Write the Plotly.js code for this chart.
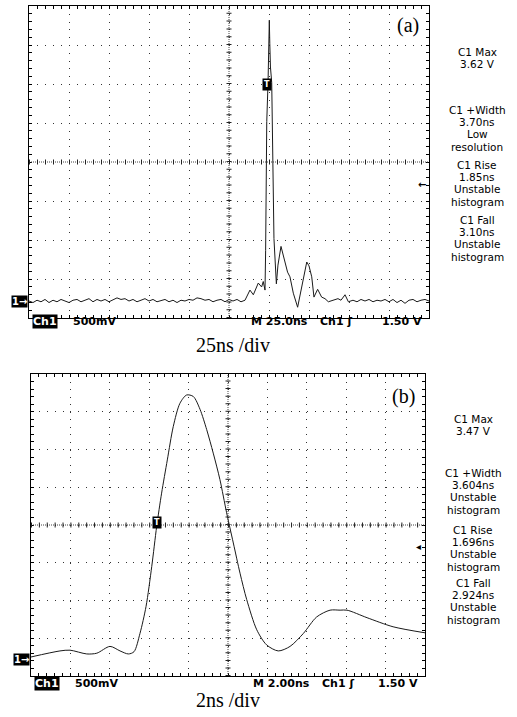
<!DOCTYPE html>
<html>
<head>
<meta charset="utf-8">
<script src="https://cdn.plot.ly/plotly-3.0.1.min.js"></script>
<style>html,body{margin:0;padding:0;background:#fff;}#chart{width:517px;height:717px;}</style>
</head>
<body>
<div id="chart"></div>
<script>
// ---------- data ----------
// Panel (a): time in ns (25 ns/div), voltage in V
const timeA = [0,2.5,5,7.5,10,12.5,15,17.5,20,22.5,25,27.5,30,32.5,35,37.5,40,42.5,45,47.5,50,52.5,55,57.5,60,62.5,65,67.5,70,72.5,75,77.5,80,82.5,85,87.5,90,92.5,95,97.5,100,102.5,105,107.5,110,112.5,115,117.5,120,122.5,125,127.5,130,132.5,135,
  138.1,140.2,143.3,145.4,146.4,147.5,147.9,148.1,148.6,149.4,149.9,150.2,150.5,150.9,151.7,152.1,152.4,152.7,153.1,154.6,155.6,157.5,158.75,160,161.6,163.1,165.2,167.9,170.4,171.9,173.6,175,176.7,178.1,180.4,182.9,185,187.1,190,193.1,195,197.5,199.6,
  202.5,205,207.5,210,212.5,215,217.5,220,222.5,225,227.5,230,232.5,235,237.5,240,242.5,245,247.5,250];
const voltA = [0.00,-0.02,0.01,-0.01,0.02,-0.02,0.01,-0.01,0.02,0.00,-0.02,0.01,0.02,-0.01,0.01,0.03,-0.01,0.02,0.00,0.02,-0.01,0.02,0.04,0.02,0.03,0.00,0.02,-0.01,0.01,0.03,0.00,0.02,-0.01,0.01,0.02,-0.01,0.01,-0.02,0.01,0.00,0.02,0.01,0.04,0.03,0.01,0.02,-0.01,0.01,0.02,-0.01,0.02,0.00,0.02,-0.01,0.01,
  0.14,0.08,0.23,0.18,0.25,0.14,0.65,1.30,2.30,2.80,3.30,3.60,3.30,3.00,2.80,2.30,1.80,1.30,0.80,0.22,0.46,0.70,0.59,0.49,0.37,0.31,0.10,-0.08,0.18,0.33,0.50,0.45,0.31,0.05,0.15,0.05,0.03,-0.01,0.01,0.03,0.01,0.08,-0.01,
  0.01,-0.01,0.02,0.00,0.02,-0.01,0.01,0.00,0.02,-0.01,0.02,-0.02,0.01,-0.03,0.01,0.02,-0.01,0.01,0.02,0.00];

// Panel (b): time in ns (2 ns/div), voltage in V
const timeB = [0,1.47,1.98,2.83,3.34,4.01,4.52,4.94,5.23,5.53,5.84,6.13,6.38,6.63,6.92,7.22,7.56,7.90,8.24,8.58,8.92,9.25,9.59,9.93,10.27,10.61,10.95,11.46,11.96,12.55,13.15,13.82,14.50,15.18,15.69,16.04,17.06,18.38,20.0];
const voltB = [0.04,0.12,0.13,0.08,0.09,0.18,0.12,0.08,0.11,0.35,0.71,1.24,1.77,2.21,2.65,3.09,3.40,3.51,3.49,3.32,3.05,2.74,2.39,1.95,1.55,1.15,0.80,0.40,0.20,0.12,0.18,0.35,0.57,0.66,0.66,0.66,0.56,0.44,0.36];

// Trigger markers (T) positions in data units
const trigA = {t: 148.5, v: 2.77};
const trigB = {t: 6.42, v: 1.82};
const trigLevel = 1.5;

// Texts
const measTextA = [["C1 Max","3.62 V"],["C1 +Width","3.70ns","Low","resolution"],["C1 Rise","1.85ns","Unstable","histogram"],["C1 Fall","3.10ns","Unstable","histogram"]];
const measTextB = [["C1 Max","3.47 V"],["C1 +Width","3.604ns","Unstable","histogram"],["C1 Rise","1.696ns","Unstable","histogram"],["C1 Fall","2.924ns","Unstable","histogram"]];
const infoA = ["Ch1","500mV","M 25.0ns","Ch1 \u0283","1.50 V"];
const infoB = ["Ch1","500mV","M 2.00ns","Ch1 \u0283","1.50 V"];
const axisTitleA = "25ns /div";
const axisTitleB = "2ns /div";
const panelLabelA = "(a)";
const panelLabelB = "(b)";

// ---------- layout ----------
const W = 517, H = 717;
const px = x => x / W;
const py = y => 1 - y / H;

const boxA = {l: 29, r: 429, t: 6, b: 318};
const boxB = {l: 31, r: 425, t: 374, b: 676};
const rangeA = {x: [0, 250], y: [-0.218, 3.782]};
const rangeB = {x: [0, 20], y: [-0.212, 3.788]};

function mkX(box, range, dt, ydash) {
  return {
    domain: [px(box.l), px(box.r)], range: range.x, tick0: range.x[0], dtick: dt,
    showgrid: true, gridcolor: '#333', gridwidth: 1, griddash: ydash,
    showline: true, linecolor: '#000', linewidth: 1, mirror: 'allticks',
    ticks: 'inside', ticklen: 3, tickcolor: '#000', showticklabels: false,
    minor: {ticks: 'inside', ticklen: 3, dtick: dt / 5, tick0: range.x[0], tickcolor: '#000', showgrid: false},
    zeroline: false, fixedrange: true
  };
}
function mkY(box, range, xdash) {
  return {
    domain: [py(box.b), py(box.t)], range: range.y, tick0: range.y[0], dtick: 0.5,
    showgrid: true, gridcolor: '#333', gridwidth: 1, griddash: xdash,
    showline: true, linecolor: '#000', linewidth: 1, mirror: 'allticks',
    ticks: 'inside', ticklen: 3, tickcolor: '#000', showticklabels: false,
    minor: {ticks: 'inside', ticklen: 3, dtick: 0.1, tick0: range.y[0], tickcolor: '#000', showgrid: false},
    zeroline: false, fixedrange: true
  };
}

const stepAx = (boxA.r - boxA.l) / 50, stepAy = (boxA.b - boxA.t) / 40;
const stepBx = (boxB.r - boxB.l) / 50, stepBy = (boxB.b - boxB.t) / 40;
const dashPat = s => '1px,' + (s - 1).toFixed(2) + 'px';

const traces = [
  {x: timeA, y: voltA, xaxis: 'x', yaxis: 'y', mode: 'lines', line: {color: '#1a1a1a', width: 1}, hoverinfo: 'skip'},
  {x: timeB, y: voltB, xaxis: 'x2', yaxis: 'y2', mode: 'lines', line: {color: '#1a1a1a', width: 1, shape: 'spline', smoothing: 0.8}, hoverinfo: 'skip'}
];

function crossShapes(xa, ya, range, sx, sy) {
  const cx = (range.x[0] + range.x[1]) / 2, cy = (range.y[0] + range.y[1]) / 2;
  return [
    {type: 'line', xref: xa, yref: ya + ' domain', x0: cx, x1: cx, y0: 0, y1: 1, line: {color: '#444', width: 1, dash: '1px,1px'}},
    {type: 'line', xref: xa, yref: ya + ' domain', x0: cx, x1: cx, y0: 0, y1: 1, line: {color: '#222', width: 5, dash: dashPat(sy)}},
    {type: 'line', xref: xa + ' domain', yref: ya, x0: 0, x1: 1, y0: cy, y1: cy, line: {color: '#444', width: 1, dash: '1px,1px'}},
    {type: 'line', xref: xa + ' domain', yref: ya, x0: 0, x1: 1, y0: cy, y1: cy, line: {color: '#222', width: 5, dash: dashPat(sx)}}
  ];
}

const ann = [];
const scopeFont = {family: 'DejaVu Sans', size: 11, color: '#000', weight: 'bold'};
function infoRow(items, box, yc) {
  ann.push({text: items[0], x: px(box.l + 3), y: py(yc), xref: 'paper', yref: 'paper', xanchor: 'left', yanchor: 'middle', showarrow: false,
    font: {family: 'DejaVu Sans', size: 11, color: '#fff', weight: 'bold'}, bgcolor: '#000', borderpad: 0});
  ann.push({text: items[1], x: px(box.l + 42), y: py(yc), xref: 'paper', yref: 'paper', xanchor: 'left', yanchor: 'middle', showarrow: false, font: scopeFont});
  ann.push({text: items[2], x: px(box.l + 220), y: py(yc), xref: 'paper', yref: 'paper', xanchor: 'left', yanchor: 'middle', showarrow: false, font: scopeFont});
  ann.push({text: items[3], x: px(box.l + 289), y: py(yc), xref: 'paper', yref: 'paper', xanchor: 'left', yanchor: 'middle', showarrow: false, font: scopeFont});
  ann.push({text: items[4], x: px(box.r - 5), y: py(yc), xref: 'paper', yref: 'paper', xanchor: 'right', yanchor: 'middle', showarrow: false, font: scopeFont});
}
infoRow(infoA, boxA, 321);
infoRow(infoB, boxB, 683);

function measBlock(blocks, xc, starts, lh) {
  blocks.forEach((lines, i) => {
    lines.forEach((s, j) => {
      ann.push({text: s, x: px(xc), y: py(starts[i] + j * lh), xref: 'paper', yref: 'paper', xanchor: 'center', yanchor: 'middle', showarrow: false,
        font: {family: 'DejaVu Sans', size: 10.5, color: '#000'}, borderpad: 0});
    });
  });
}
measBlock(measTextA, 477, [52, 110, 165, 220], 12.2);
measBlock(measTextB, 473, [419, 473, 530, 583], 12.2);

const serif = {family: 'Liberation Serif', size: 20, color: '#000'};
ann.push({text: axisTitleA, x: px(233), y: py(345), xref: 'paper', yref: 'paper', xanchor: 'center', yanchor: 'middle', showarrow: false, font: serif});
ann.push({text: axisTitleB, x: px(228), y: py(700), xref: 'paper', yref: 'paper', xanchor: 'center', yanchor: 'middle', showarrow: false, font: serif});
ann.push({text: panelLabelA, x: px(408), y: py(25), xref: 'paper', yref: 'paper', xanchor: 'center', yanchor: 'middle', showarrow: false, font: serif});
ann.push({text: panelLabelB, x: px(403), y: py(396), xref: 'paper', yref: 'paper', xanchor: 'center', yanchor: 'middle', showarrow: false, font: serif});

// ground markers "1->"
const gFont = {family: 'DejaVu Sans', size: 10, color: '#fff', weight: 'bold'};
ann.push({text: '1\u2192', x: px(boxA.l - 1), y: 0, xref: 'paper', yref: 'y', xanchor: 'right', yanchor: 'middle', showarrow: false, font: gFont, bgcolor: '#000', borderpad: 0});
ann.push({text: '1\u2192', x: px(boxB.l - 1), y: 0, xref: 'paper', yref: 'y2', xanchor: 'right', yanchor: 'middle', showarrow: false, font: gFont, bgcolor: '#000', borderpad: 0});
// trigger markers T
const tFont = {family: 'DejaVu Sans', size: 8, color: '#fff', weight: 'bold'};
ann.push({text: 'T', x: trigA.t, y: trigA.v, xref: 'x', yref: 'y', showarrow: false, font: tFont, bgcolor: '#000', borderpad: 1});
ann.push({text: 'T', x: trigB.t, y: trigB.v, xref: 'x2', yref: 'y2', showarrow: false, font: tFont, bgcolor: '#000', borderpad: 1});
// trigger level arrows
ann.push({text: '\u2190', x: px(boxA.r - 1), y: trigLevel, xref: 'paper', yref: 'y', xanchor: 'right', yanchor: 'middle', showarrow: false, font: {family: 'DejaVu Sans', size: 10, color: '#000', weight: 'bold'}});
ann.push({text: '\u25C2', x: px(boxB.r - 2), y: trigLevel, xref: 'paper', yref: 'y2', xanchor: 'right', yanchor: 'middle', showarrow: false, font: {family: 'DejaVu Sans', size: 10, color: '#000'}});

const layout = {
  width: W, height: H, margin: {l: 0, r: 0, t: 0, b: 0, pad: 0},
  paper_bgcolor: '#fff', plot_bgcolor: '#fff', showlegend: false,
  xaxis: mkX(boxA, rangeA, 25, dashPat(stepAy)),
  yaxis: mkY(boxA, rangeA, dashPat(stepAx)),
  xaxis2: Object.assign(mkX(boxB, rangeB, 2, dashPat(stepBy)), {anchor: 'y2'}),
  yaxis2: Object.assign(mkY(boxB, rangeB, dashPat(stepBx)), {anchor: 'x2'}),
  shapes: crossShapes('x', 'y', rangeA, stepAx, stepAy).concat(crossShapes('x2', 'y2', rangeB, stepBx, stepBy)),
  annotations: ann
};
layout.xaxis.anchor = 'y';
layout.yaxis.anchor = 'x';

Plotly.newPlot('chart', traces, layout, {staticPlot: true, displayModeBar: false});
</script>
</body>
</html>
